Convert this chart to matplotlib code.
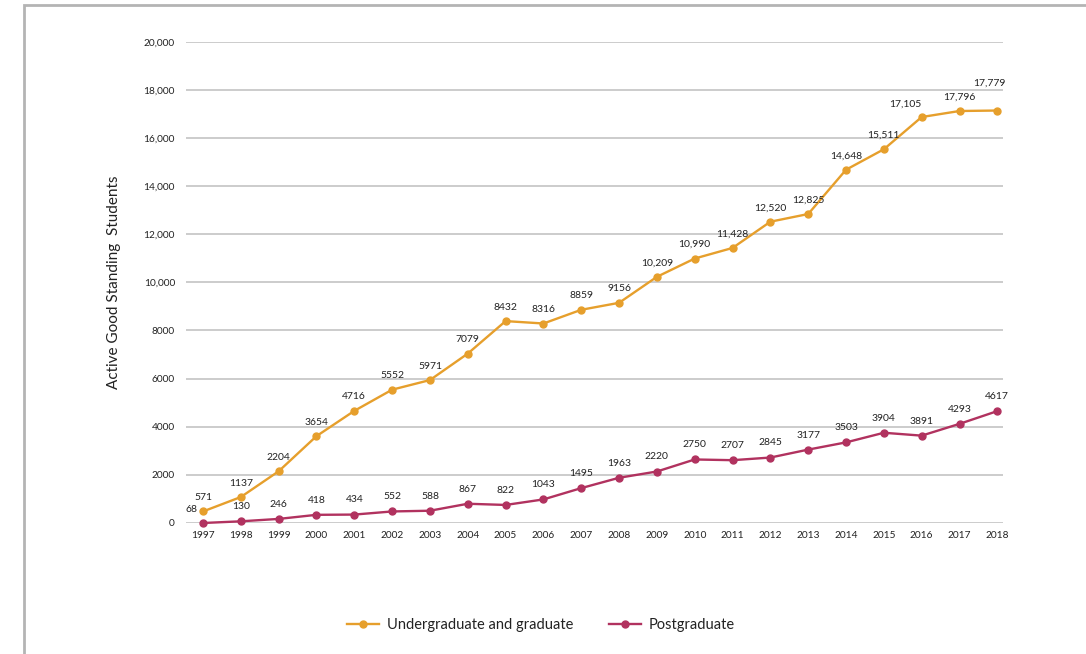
import matplotlib
matplotlib.use("Agg")
import matplotlib.pyplot as plt
from matplotlib.patches import Rectangle

plt.rcParams['font.family'] = ['Lato', 'DejaVu Sans']

years = ["1997", "1998", "1999", "2000", "2001", "2002", "2003", "2004", "2005", "2006", "2007",
         "2008", "2009", "2010", "2011", "2012", "2013", "2014", "2015", "2016", "2017", "2018"]

undergrad_values = [480, 1080, 2150, 3610, 4660, 5540, 5940, 7040, 8390, 8290, 8860,
                    9150, 10230, 10990, 11430, 12520, 12840, 14680, 15530, 16870, 17120, 17140]
undergrad_labels = ["571", "1137", "2204", "3654", "4716", "5552", "5971", "7079", "8432", "8316", "8859",
                    "9156", "10,209", "10,990", "11,428", "12,520", "12,825", "14,648", "15,511", "17,105",
                    "17,796", "17,779"]

postgrad_values = [0, 70, 170, 340, 350, 480, 510, 800, 750, 980, 1450,
                   1880, 2140, 2640, 2610, 2720, 3050, 3350, 3750, 3630, 4120, 4650]
postgrad_labels = ["68", "130", "246", "418", "434", "552", "588", "867", "822", "1043", "1495",
                   "1963", "2220", "2750", "2707", "2845", "3177", "3503", "3904", "3891", "4293", "4617"]

y_ticks = [0, 2000, 4000, 6000, 8000, 10000, 12000, 14000, 16000, 18000, 20000]
y_tick_labels = ["0", "2000", "4000", "6000", "8000", "10,000", "12,000", "14,000", "16,000", "18,000", "20,000"]

series_names = ["Undergraduate and graduate", "Postgraduate"]

orange = "#E69F2C"
magenta = "#B1325F"

fig = plt.figure(figsize=(10.86, 6.54), dpi=100)
fig.patch.set_facecolor("white")

# frame (left & top edges visible)
fig.patches.append(Rectangle((24 / 1086, -0.1), 1.2, (654 - 5) / 654 + 0.1,
                             transform=fig.transFigure, fill=False,
                             edgecolor="#b4b4b4", linewidth=2.0, zorder=0))

ax = fig.add_axes([186 / 1086, (654 - 523) / 654, (1003 - 186) / 1086, (523 - 41.7) / 654])
x = list(range(len(years)))

ax.plot(x, undergrad_values, color=orange, lw=1.7, marker="o", ms=5, label=series_names[0],
        clip_on=False, zorder=3)
ax.plot(x, postgrad_values, color=magenta, lw=1.7, marker="o", ms=5, label=series_names[1],
        clip_on=False, zorder=3)

ax.set_xlim(-0.45, 21.15)
ax.set_ylim(0, 20000)
ax.set_yticks(y_ticks)
ax.set_yticklabels(y_tick_labels)
ax.set_xticks(x)
ax.set_xticklabels(years)
ax.tick_params(axis="both", length=0, labelsize=7.3, colors="#222222")
ax.tick_params(axis="y", pad=8)
ax.tick_params(axis="x", pad=6)
for s in ax.spines.values():
    s.set_visible(False)
ax.grid(axis="y", color="#c8c8c8", lw=1.3)
ax.set_axisbelow(True)

ax.set_ylabel("Active Good Standing  Students", fontsize=11, color="#222222", labelpad=16)

# label offset overrides (points)
u_off = {19: (-12, 9), 21: (-6, 20)}
p_off = {0: (-8.5, 9.5)}
for i, (v, t) in enumerate(zip(undergrad_values, undergrad_labels)):
    dx, dy = u_off.get(i, (0, 10))
    ax.annotate(t, (i, v), xytext=(dx, dy), textcoords="offset points", ha="center", va="center",
                fontsize=7.5, color="#222222")
for i, (v, t) in enumerate(zip(postgrad_values, postgrad_labels)):
    dx, dy = p_off.get(i, (0, 10.5))
    ax.annotate(t, (i, v), xytext=(dx, dy), textcoords="offset points", ha="center", va="center",
                fontsize=7.5, color="#222222")

leg = fig.legend(loc="center", bbox_to_anchor=(541 / 1086, (654 - 625) / 654), ncol=2, frameon=False,
                 fontsize=10.5, handlelength=2.2, columnspacing=2.5, handletextpad=0.5)
for t in leg.get_texts():
    t.set_color("#222222")

fig.savefig("out.png", dpi=100, facecolor="white")
